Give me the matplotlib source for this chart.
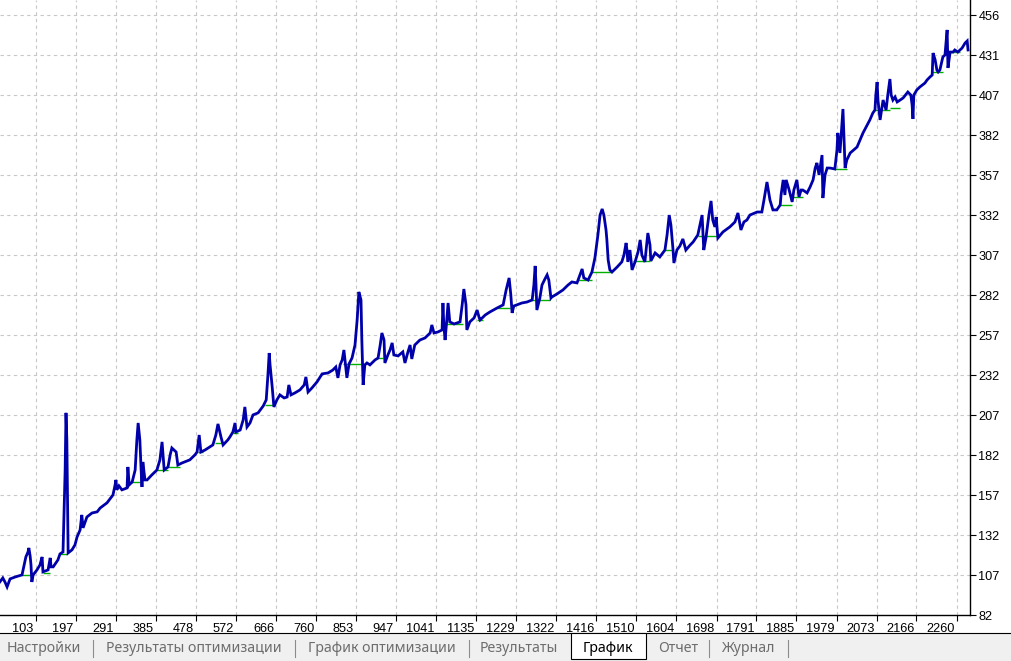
import numpy as np
import matplotlib
matplotlib.use('Agg')
import matplotlib.pyplot as plt
import matplotlib.transforms as mtransforms
from matplotlib.patches import Rectangle
from matplotlib.lines import Line2D


# balance curve (trade number, balance)
trade = [19, 26, 31, 36, 43, 55, 71, 76, 80, 85, 87, 90, 92, 94, 97, 106, 113,
         118, 120, 132, 137, 139, 144, 155, 160, 167, 169, 172, 174, 176, 179,
         188, 195, 200, 207, 211, 214, 223, 235, 247, 254, 270, 284, 289, 291,
         293, 298, 305, 317, 319, 322, 329, 336, 340, 343, 347, 350, 352, 354,
         359, 364, 375, 387, 394, 399, 404, 413, 418, 422, 432, 436, 446, 464,
         476, 481, 486, 490, 500, 518, 525, 530, 537, 542, 553, 558, 565, 570,
         572, 582, 589, 593, 598, 605, 612, 624, 636, 643, 647, 650, 652, 657,
         661, 668, 675, 685, 692, 696, 701, 710, 722, 732, 736, 741, 750, 762,
         774, 788, 799, 806, 811, 816, 821, 825, 832, 837, 844, 851, 856, 860,
         865, 867, 870, 874, 879, 886, 898, 905, 910, 914, 919, 921, 928, 933,
         938, 942, 952, 963, 968, 975, 980, 984, 991, 1003, 1015, 1027, 1031,
         1036, 1045, 1055, 1057, 1059, 1062, 1066, 1069, 1073, 1083, 1097,
         1102, 1106, 1111, 1113, 1120, 1130, 1137, 1142, 1144, 1156, 1167,
         1184, 1198, 1205, 1212, 1216, 1219, 1223, 1230, 1242, 1254, 1266,
         1270, 1273, 1275, 1277, 1284, 1289, 1296, 1301, 1305, 1310, 1312,
         1324, 1338, 1350, 1359, 1371, 1378, 1383, 1387, 1397, 1406, 1413,
         1420, 1425, 1430, 1434, 1439, 1441, 1444, 1448, 1453, 1465, 1476,
         1481, 1486, 1488, 1490, 1495, 1500, 1507, 1514, 1519, 1523, 1530,
         1537, 1542, 1544, 1554, 1565, 1577, 1582, 1587, 1591, 1596, 1598,
         1605, 1612, 1619, 1626, 1636, 1643, 1654, 1659, 1664, 1668, 1673,
         1680, 1685, 1689, 1694, 1697, 1701, 1713, 1729, 1741, 1748, 1753,
         1755, 1762, 1769, 1776, 1793, 1804, 1809, 1816, 1821, 1823, 1830,
         1839, 1847, 1849, 1854, 1858, 1861, 1868, 1875, 1879, 1886, 1891,
         1896, 1900, 1910, 1917, 1924, 1929, 1933, 1938, 1945, 1947, 1952,
         1957, 1964, 1975, 1980, 1982, 1987, 1989, 1994, 1999, 2003, 2011,
         2027, 2041, 2057, 2064, 2069, 2071, 2074, 2076, 2081, 2088, 2095,
         2099, 2104, 2107, 2111, 2116, 2121, 2128, 2135, 2146, 2153, 2156,
         2158, 2160, 2167, 2174, 2186, 2191, 2198, 2203, 2205, 2210, 2214,
         2217, 2221, 2228, 2233, 2238, 2240, 2245, 2252, 2256, 2263, 2273,
         2280, 2285, 2287]
balance = [102.6, 105.1, 102.6, 99.5, 104.5, 105.7, 107.0, 113.2, 118.2, 121.3,
           123.8, 118.8, 113.2, 102.6, 107.0, 110.1, 113.2, 118.2, 108.9, 110.1,
           117.6, 112.0, 112.0, 116.3, 120.1, 121.3, 141.3, 172.4, 208.0, 191.1,
           120.7, 122.6, 125.7, 130.7, 135.0, 144.4, 136.3, 143.1, 145.6, 146.3,
           148.7, 151.9, 156.8, 163.1, 166.2, 160.0, 162.5, 160.0, 161.2, 174.3,
           163.1, 164.9, 172.4, 191.1, 201.7, 191.1, 172.4, 161.8, 177.4, 166.2,
           166.2, 169.3, 172.4, 178.7, 189.9, 172.4, 174.3, 181.8, 186.1, 183.6,
           175.5, 176.8, 178.7, 181.8, 183.6, 194.2, 183.6, 184.9, 188.0, 194.2,
           201.1, 193.0, 188.0, 191.1, 193.0, 196.1, 201.7, 196.1, 197.3, 203.6,
           211.7, 199.2, 201.7, 206.7, 208.0, 212.3, 216.1, 231.6, 245.3, 237.9,
           224.2, 211.7, 216.1, 219.2, 217.3, 217.9, 225.4, 219.2, 220.4, 222.3,
           225.4, 230.4, 221.0, 223.5, 227.3, 232.3, 232.9, 234.7, 236.6, 229.8,
           237.9, 241.0, 247.2, 229.8, 238.5, 242.2, 250.3, 265.9, 283.4, 278.4,
           253.4, 225.4, 237.9, 239.1, 237.9, 241.0, 242.2, 250.3, 257.8, 253.4,
           239.1, 244.1, 247.2, 251.6, 244.1, 243.5, 246.0, 239.1, 246.0, 250.3,
           241.6, 250.3, 253.4, 254.7, 257.8, 262.8, 257.8, 258.4, 259.7, 276.5,
           262.8, 253.4, 265.9, 276.5, 264.7, 263.4, 264.7, 275.3, 285.2, 275.3,
           259.7, 264.7, 267.2, 272.1, 267.2, 265.9, 269.0, 270.9, 273.4, 275.3,
           284.6, 292.1, 281.5, 270.3, 274.6, 275.3, 276.5, 277.1, 278.4, 287.7,
           299.6, 287.7, 272.1, 279.6, 287.7, 291.5, 294.0, 290.8, 279.6, 280.2,
           282.1, 284.6, 287.7, 289.6, 289.0, 294.0, 297.7, 292.1, 290.8, 295.8,
           304.6, 318.9, 331.3, 335.1, 331.3, 322.0, 315.8, 303.3, 297.1, 295.8,
           298.9, 302.1, 306.4, 313.9, 309.5, 302.1, 309.5, 297.1, 302.1, 308.3,
           315.8, 306.4, 302.1, 320.1, 312.6, 302.7, 307.7, 305.2, 309.5, 318.9,
           331.3, 325.1, 309.5, 301.4, 309.5, 312.0, 316.4, 309.5, 312.6, 314.5,
           318.9, 325.1, 331.3, 309.5, 317.0, 331.3, 340.1, 328.2, 323.9, 330.1,
           317.0, 320.8, 323.9, 327.0, 332.6, 325.1, 322.0, 327.0, 328.2, 331.3,
           333.2, 333.2, 340.7, 351.9, 343.8, 340.7, 334.5, 334.5, 337.6, 343.8,
           353.2, 343.8, 353.2, 346.9, 339.5, 346.9, 353.2, 342.6, 346.9, 346.9,
           345.1, 348.8, 353.2, 360.6, 363.8, 356.3, 368.7, 341.9, 356.3, 360.6,
           360.6, 360.0, 371.9, 382.5, 370.0, 378.1, 397.4, 360.6, 365.6, 370.0,
           373.7, 382.5, 390.6, 394.9, 396.8, 406.1, 414.2, 403.0, 390.6, 403.0,
           396.8, 406.1, 416.1, 406.1, 403.0, 404.9, 401.8, 403.0, 404.3, 408.0,
           406.1, 399.9, 391.2, 406.1, 409.3, 411.1, 413.6, 415.5, 417.4, 418.6,
           432.3, 428.0, 421.7, 420.5, 421.7, 429.8, 431.1, 446.7, 423.0, 432.9,
           432.9, 434.2, 432.9, 435.4, 438.5, 439.8, 434.2]

# flat green stretches (start trade, end trade, level)
flat_start = [71, 120, 160, 317, 387, 413, 483, 523, 565, 640, 823, 903, 1055,
              1137, 1184, 1261, 1373, 1406, 1502, 1577, 1654, 1847, 1877, 1975,
              2069, 2104, 2203, 2238]
flat_end = [94, 137, 176, 347, 413, 441, 495, 542, 577, 659, 870, 917, 1104,
            1151, 1214, 1308, 1406, 1453, 1542, 1596, 1701, 1875, 1900, 2003,
            2104, 2128, 2228, 2268]
flat_level = [107.0, 108.2, 120.1, 164.9, 172.4, 174.3, 183.6, 189.2, 195.5,
              212.9, 238.5, 242.2, 263.4, 265.9, 273.4, 278.4, 290.8, 295.8,
              302.7, 309.5, 318.3, 337.6, 342.6, 360.0, 396.8, 398.0, 420.5,
              432.9]

x_labels = ['103', '197', '291', '385', '478', '572', '666', '760', '853', '947',
            '1041', '1135', '1229', '1322', '1416', '1510', '1604', '1698',
            '1791', '1885', '1979', '2073', '2166', '2260']
y_labels = ['82', '107', '132', '157', '182', '207', '232', '257', '282', '307',
            '332', '357', '382', '407', '431', '456']

tabs = ['Настройки', 'Результаты оптимизации', 'График оптимизации',
        'Результаты', 'График', 'Отчет', 'Журнал']
tab_x = [44, 194, 382, 519, 608, 678, 748]   # text centres, px
sep_x = [93, 295, 469, 709, 788]
active_tab = 4


W, H = 1011, 661
fig = plt.figure(figsize=(W / 100, H / 100), dpi=100)
fig.patch.set_facecolor('white')
ax = fig.add_axes([0, 46 / H, 970 / W, 615 / H])

grid_kw = dict(color='#c8c8c8', lw=0.8, ls=(0, (3, 3)), zorder=0)
for v in x_labels:
    ax.axvline(float(v), **grid_kw)
y_pos = np.linspace(82, 456, len(y_labels))
for v in y_pos:
    ax.axhline(v, **grid_kw)

ax.hlines(flat_level, flat_start, flat_end, color='#00b000', lw=1.0, zorder=2)
ax.plot(trade, balance, color='#0000aa', lw=2.0, zorder=3,
        solid_joinstyle='miter')

ax.set_xlim(19.4, 2291.6)
ax.set_ylim(82, 465.35)

for s in ['left', 'top']:
    ax.spines[s].set_visible(False)
for s in ['right', 'bottom']:
    ax.spines[s].set_color('black')
    ax.spines[s].set_linewidth(1.0)

tick_font = dict(family='Liberation Sans', size=9.2)
ax.set_xticks([float(v) for v in x_labels])
ax.set_xticklabels(x_labels, **tick_font)
ax.yaxis.tick_right()
ax.set_yticks(y_pos)
ax.set_yticklabels(y_labels, **tick_font)
ax.tick_params(axis='x', length=4, width=0.8, pad=1.5, colors='black')
ax.tick_params(axis='y', length=4, width=0.8, pad=2, colors='black')
shift = mtransforms.ScaledTranslation(-0.02, 0, fig.dpi_scale_trans)
for lab in ax.get_xticklabels():
    lab.set_horizontalalignment('right')
    lab.set_transform(lab.get_transform() + shift)

# tab strip at the bottom
fig.add_artist(Rectangle((0, 0), 1, 1 - 633 / H, transform=fig.transFigure,
                         facecolor='#f0f0f0', edgecolor='none', zorder=1))
fig.add_artist(Line2D([0, 1], [1 - 633 / H] * 2, transform=fig.transFigure,
                      color='black', lw=0.8, zorder=2))
fig.add_artist(Rectangle((571 / W, 1 - 659 / H), 75 / W, 26 / H,
                         transform=fig.transFigure, facecolor='white',
                         edgecolor='black', lw=0.8, zorder=3))
for x in sep_x:
    fig.add_artist(Line2D([x / W] * 2, [1 - 640 / H, 1 - 657 / H],
                          transform=fig.transFigure, color='#8c8c8c', lw=0.8,
                          zorder=2))
for i, (t, x) in enumerate(zip(tabs, tab_x)):
    fig.text(x / W, 1 - 648 / H, t, ha='center', va='center',
             family='Noto Sans', size=10.2, zorder=4,
             color='black' if i == active_tab else '#6d6d6d')

plt.savefig('out.png', dpi=100)
